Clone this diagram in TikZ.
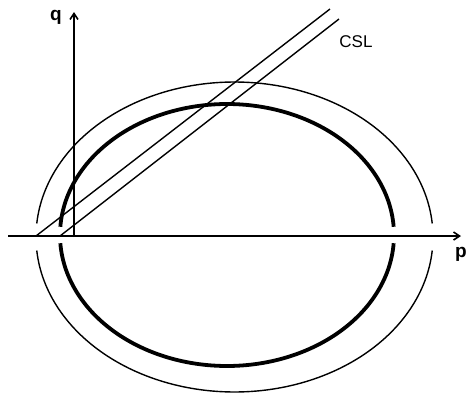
\documentclass[tikz,border=0pt]{standalone}
\usepackage{fontspec}
\setmainfont{Liberation Sans}
\usetikzlibrary{arrows.meta}
\begin{document}
\begin{tikzpicture}[x=1pt,y=-1pt,
  axis/.style={line width=2.4pt,-{Straight Barb[length=6pt,width=8pt,line width=1.6pt]}},
  thickell/.style={line width=3.8pt},
  thinell/.style={line width=1.4pt},
  csl/.style={line width=1.4pt},
  lab/.style={inner sep=0pt,font=\fontsize{17}{19}\selectfont},
  axlab/.style={inner sep=0pt,font=\bfseries\fontsize{19}{21}\selectfont}]
\useasboundingbox (0,0) rectangle (467,394);
% axes
\coordinate (po) at (8,236);
\coordinate (pe) at (461,236);
\coordinate (qo) at (74,237);
\coordinate (qe) at (74,12);
\draw[axis] (po) -- (pe);
\draw[axis] (qo) -- (qe);
\node[axlab] (q) at (56,17) {q};
\node[axlab,anchor=north east] (p) at (467,247) {p};
% thick ellipse
\draw[thickell] plot[domain=3.6:176.4,samples=120] ({227+167*cos(\x)},{235-131*sin(\x)});
\draw[thickell] plot[domain=183.6:356.4,samples=120] ({227+167*cos(\x)},{235-131*sin(\x)});
% thin ellipse
\draw[thinell] plot[domain=5:175,samples=120] ({234.5+198.5*cos(\x)},{237-155*sin(\x)});
\draw[thinell] plot[domain=185:355,samples=120] ({234.5+198.5*cos(\x)},{237-155*sin(\x)});
% CSL lines
\coordinate (a1) at (36,236);
\coordinate (b1) at (330,9);
\coordinate (a2) at (60,236);
\coordinate (b2) at (339,19);
\draw[csl] (a1) -- (b1);
\draw[csl] (a2) -- (b2);
\node[lab] (csl) at (356,42) {CSL};
\end{tikzpicture}
\end{document}
